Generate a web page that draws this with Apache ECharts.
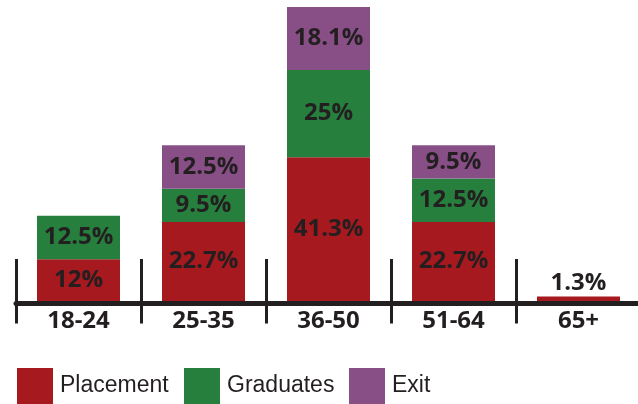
<!DOCTYPE html>
<html>
<head>
<meta charset="utf-8">
<script src="https://cdn.jsdelivr.net/npm/echarts@6/dist/echarts.min.js"></script>
<style>
html,body{margin:0;padding:0;background:#fff;}
#chart{width:638px;height:404px;}
</style>
</head>
<body>
<div id="chart"></div>
<script>
const categories = ['18-24', '25-35', '36-50', '51-64', '65+'];
const placement = [12, 22.7, 41.3, 22.7, 1.3];
const graduates = [12.5, 9.5, 25, 12.5, null];
const exitVals = [null, 12.5, 18.1, 9.5, null];
const seriesNames = ['Placement', 'Graduates', 'Exit'];

const colors = ['#a6191f', '#267f3d', '#884f87'];
const ink = '#231f20';
const labelFont = "'Open Sans', sans-serif";

function seriesData(arr) {
  return arr.map(v => (v === null ? '-' : (v < 5 ? { value: v, label: { position: 'top', distance: 1 } } : v)));
}

function makeSeries(name, arr, color) {
  return {
    name: name,
    type: 'bar',
    stack: 'total',
    barWidth: 83,
    data: seriesData(arr),
    itemStyle: { color: color },
    label: {
      show: true,
      position: 'inside',
      formatter: p => p.value + '%',
      color: ink,
      fontFamily: labelFont,
      fontWeight: 'bold',
      fontSize: 24
    }
  };
}

const legendText = {
  color: ink,
  fontFamily: "'Liberation Sans', sans-serif",
  fontSize: 23,
  padding: [0, 0, 0, 2]
};
function makeLegend(name, left) {
  return {
    data: [name],
    left: left,
    top: 368,
    icon: 'rect',
    itemWidth: 36,
    itemHeight: 36,
    padding: 0,
    selectedMode: false,
    textStyle: legendText
  };
}

const chart = echarts.init(document.getElementById('chart'), null, { renderer: 'canvas' });
chart.setOption({
  animation: false,
  backgroundColor: '#ffffff',
  grid: { left: 16, width: 625, top: 7, bottom: 103, containLabel: false, outerBoundsMode: 'none' },
  xAxis: [
    {
      type: 'category',
      data: categories,
      position: 'bottom',
      offset: 2.5,
      axisLine: { show: true, onZero: false, lineStyle: { color: ink, width: 5 } },
      axisTick: { show: true, inside: false, length: 20, lineStyle: { color: ink, width: 3 } },
      axisLabel: { margin: 6, color: ink, fontFamily: labelFont, fontWeight: 'bold', fontSize: 24 },
      splitLine: { show: false }
    },
    {
      type: 'category',
      data: categories,
      position: 'bottom',
      offset: 2.5,
      axisLine: { show: false },
      axisTick: { show: true, inside: true, length: 42, lineStyle: { color: ink, width: 3 } },
      axisLabel: { show: false },
      splitLine: { show: false }
    }
  ],
  yAxis: { type: 'value', min: 0, max: 84.4, show: false },
  legend: [
    makeLegend('Placement', 17),
    makeLegend('Graduates', 184),
    makeLegend('Exit', 349)
  ],
  series: [
    makeSeries(seriesNames[0], placement, colors[0]),
    makeSeries(seriesNames[1], graduates, colors[1]),
    makeSeries(seriesNames[2], exitVals, colors[2])
  ]
});
</script>
</body>
</html>
